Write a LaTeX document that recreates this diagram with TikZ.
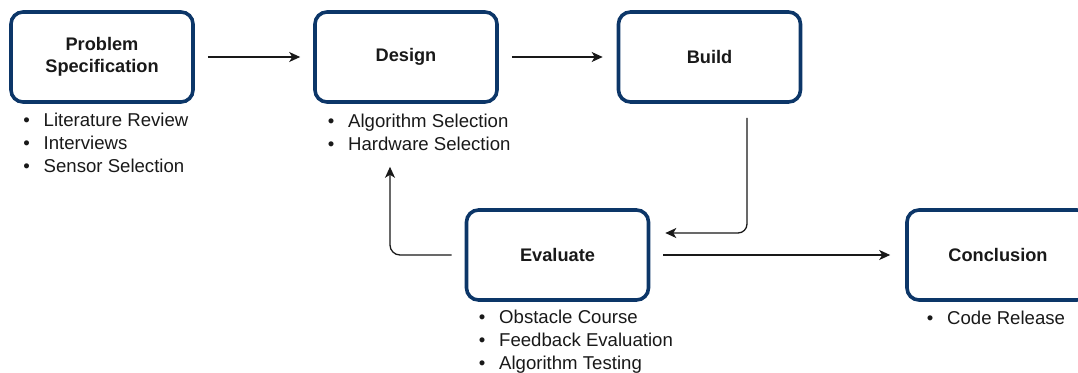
\documentclass[tikz,border=0pt]{standalone}
\usepackage{fontspec}
\setmainfont{Liberation Sans}
\usetikzlibrary{arrows.meta}
\definecolor{boxblue}{RGB}{12,54,104}
\definecolor{ink}{RGB}{25,25,25}
\tikzset{
  stage/.style={draw=boxblue, line width=3.6pt, rounded corners=12pt,
    minimum width=182pt, minimum height=90pt, align=center, inner sep=0pt,
    font=\fontsize{18.2}{22.5}\selectfont\bfseries, text=ink},
  item/.style={anchor=base west, inner sep=0pt,
    font=\fontsize{18.6}{23}\selectfont, text=ink},
  flow/.style={draw=ink, line width=1.3pt,
    -{Stealth[length=11pt,width=10pt,inset=3pt]}},
}
% bullet hanging 17pt to the left of the item text
\newcommand\bulletitem[1]{\llap{\makebox[34pt]{•}}#1}
\begin{document}
\begin{tikzpicture}[x=1pt,y=-1pt]
\useasboundingbox (0,0) rectangle (1078,372);
\clip (0,0) rectangle (1078,372);

% stages
\node[stage] (prob)  at (102,57)    {Problem\\Specification};
\node[stage] (des)   at (406,57)    {Design};
\node[stage] (build) at (709.5,57)  {Build};
\node[stage] (eval)  at (557.5,255) {Evaluate};
\node[stage] (conc)  at (998,255)   {Conclusion};

% activities under each stage
\node[item] (p1) at (43.5,126.5) {\bulletitem{Literature Review}};
\node[item] (p2) at (43.5,149.5) {\bulletitem{Interviews}};
\node[item] (p3) at (43.5,172.5) {\bulletitem{Sensor Selection}};

\node[item] (d1) at (348,127) {\bulletitem{Algorithm Selection}};
\node[item] (d2) at (348,150) {\bulletitem{Hardware Selection}};

\node[item] (e1) at (499,323) {\bulletitem{Obstacle Course}};
\node[item] (e2) at (499,346) {\bulletitem{Feedback Evaluation}};
\node[item] (e3) at (499,369) {\bulletitem{Algorithm Testing}};

\node[item] (c1) at (947,324) {\bulletitem{Code Release}};

% flow between stages
\draw[flow, shorten <=13pt, shorten >=13pt] (prob) -- (des);
\draw[flow, shorten <=13pt, shorten >=14pt] (des) -- (build);

\coordinate (buildout) at ([xshift=37.5pt,yshift=-14pt]build.south);
\coordinate (evalin)   at ([xshift=15pt,yshift=22pt]eval.east);
\draw[flow, rounded corners=9pt] (buildout) |- (evalin);

\coordinate (evalout) at ([xshift=-13pt]eval.west);
\coordinate (desin)   at ([xshift=-16pt,yshift=-63pt]des.south);
\draw[flow, rounded corners=10pt] (evalout) -| (desin);

\draw[flow, shorten <=13pt, shorten >=15pt] (eval) -- (conc);
\end{tikzpicture}
\end{document}
